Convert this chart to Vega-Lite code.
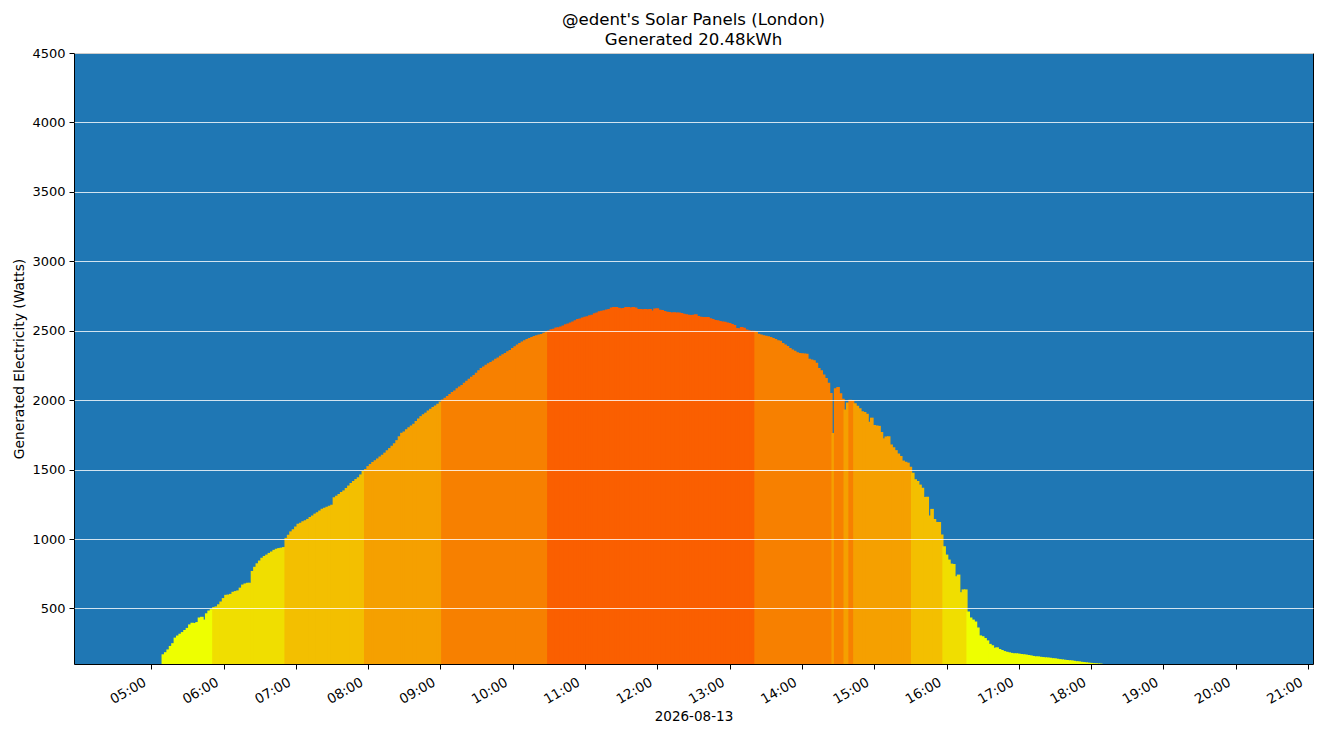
{
  "$schema": "https://vega.github.io/schema/vega-lite/v6.json",
  "autosize": {"type": "none"},
  "width": 1239,
  "height": 611,
  "padding": {"left": 74, "top": 53, "right": 11, "bottom": 72},
  "title": {
    "text": ["@edent's Solar Panels (London)", "Generated 20.48kWh"],
    "fontSize": 16.6,
    "fontWeight": "normal",
    "font": "DejaVu Sans",
    "color": "black",
    "anchor": "middle",
    "lineHeight": 20,
    "offset": -2
  },
  "data": {
    "format": {"parse": {"t": "date:'%H:%M'"}},
    "values": [
      {"t":"05:10","w":170},{"t":"05:12","w":185},{"t":"05:14","w":205},{"t":"05:16","w":230},{"t":"05:18","w":250},
      {"t":"05:20","w":290},{"t":"05:22","w":305},{"t":"05:24","w":318},{"t":"05:26","w":330},{"t":"05:28","w":345},
      {"t":"05:30","w":360},{"t":"05:32","w":385},{"t":"05:34","w":397},{"t":"05:36","w":395},{"t":"05:38","w":402},
      {"t":"05:40","w":435},{"t":"05:42","w":440},{"t":"05:44","w":420},{"t":"05:46","w":465},{"t":"05:48","w":485},
      {"t":"05:50","w":495},{"t":"05:52","w":510},{"t":"05:54","w":515},{"t":"05:56","w":530},{"t":"05:58","w":550},
      {"t":"06:00","w":575},{"t":"06:02","w":598},{"t":"06:04","w":600},{"t":"06:06","w":605},{"t":"06:08","w":620},
      {"t":"06:10","w":625},{"t":"06:12","w":630},{"t":"06:14","w":650},{"t":"06:16","w":672},{"t":"06:18","w":680},
      {"t":"06:20","w":685},{"t":"06:22","w":685},{"t":"06:24","w":770},{"t":"06:26","w":800},{"t":"06:28","w":825},
      {"t":"06:30","w":845},{"t":"06:32","w":865},{"t":"06:34","w":878},{"t":"06:36","w":888},{"t":"06:38","w":900},
      {"t":"06:40","w":910},{"t":"06:42","w":922},{"t":"06:44","w":930},{"t":"06:46","w":935},{"t":"06:48","w":938},
      {"t":"06:50","w":942},{"t":"06:52","w":1008},{"t":"06:54","w":1030},{"t":"06:56","w":1055},{"t":"06:58","w":1070},
      {"t":"07:00","w":1090},{"t":"07:02","w":1110},{"t":"07:04","w":1118},{"t":"07:06","w":1128},{"t":"07:08","w":1135},
      {"t":"07:10","w":1145},{"t":"07:12","w":1158},{"t":"07:14","w":1170},{"t":"07:16","w":1183},{"t":"07:18","w":1192},
      {"t":"07:20","w":1205},{"t":"07:22","w":1218},{"t":"07:24","w":1225},{"t":"07:26","w":1232},{"t":"07:28","w":1240},
      {"t":"07:30","w":1247},{"t":"07:32","w":1300},{"t":"07:34","w":1312},{"t":"07:36","w":1325},{"t":"07:38","w":1338},
      {"t":"07:40","w":1350},{"t":"07:42","w":1368},{"t":"07:44","w":1385},{"t":"07:46","w":1403},{"t":"07:48","w":1418},
      {"t":"07:50","w":1432},{"t":"07:52","w":1445},{"t":"07:54","w":1465},{"t":"07:56","w":1490},{"t":"07:58","w":1505},
      {"t":"08:00","w":1525},{"t":"08:02","w":1540},{"t":"08:04","w":1555},{"t":"08:06","w":1568},{"t":"08:08","w":1580},
      {"t":"08:10","w":1595},{"t":"08:12","w":1607},{"t":"08:14","w":1622},{"t":"08:16","w":1640},{"t":"08:18","w":1655},
      {"t":"08:20","w":1672},{"t":"08:22","w":1690},{"t":"08:24","w":1712},{"t":"08:26","w":1740},{"t":"08:28","w":1765},
      {"t":"08:30","w":1775},{"t":"08:32","w":1790},{"t":"08:34","w":1805},{"t":"08:36","w":1818},{"t":"08:38","w":1830},
      {"t":"08:40","w":1850},{"t":"08:42","w":1868},{"t":"08:44","w":1885},{"t":"08:46","w":1898},{"t":"08:48","w":1910},
      {"t":"08:50","w":1925},{"t":"08:52","w":1938},{"t":"08:54","w":1950},{"t":"08:56","w":1962},{"t":"08:58","w":1975},
      {"t":"09:00","w":1990},{"t":"09:02","w":2004},{"t":"09:04","w":2018},{"t":"09:06","w":2030},{"t":"09:08","w":2045},
      {"t":"09:10","w":2058},{"t":"09:12","w":2070},{"t":"09:14","w":2085},{"t":"09:16","w":2098},{"t":"09:18","w":2110},
      {"t":"09:20","w":2125},{"t":"09:22","w":2140},{"t":"09:24","w":2155},{"t":"09:26","w":2168},{"t":"09:28","w":2182},
      {"t":"09:30","w":2198},{"t":"09:32","w":2215},{"t":"09:34","w":2232},{"t":"09:36","w":2242},{"t":"09:38","w":2255},
      {"t":"09:40","w":2265},{"t":"09:42","w":2275},{"t":"09:44","w":2285},{"t":"09:46","w":2298},{"t":"09:48","w":2308},
      {"t":"09:50","w":2320},{"t":"09:52","w":2330},{"t":"09:54","w":2340},{"t":"09:56","w":2352},{"t":"09:58","w":2362},
      {"t":"10:00","w":2375},{"t":"10:02","w":2388},{"t":"10:04","w":2400},{"t":"10:06","w":2412},{"t":"10:08","w":2422},
      {"t":"10:10","w":2432},{"t":"10:12","w":2440},{"t":"10:14","w":2448},{"t":"10:16","w":2455},{"t":"10:18","w":2462},
      {"t":"10:20","w":2468},{"t":"10:22","w":2472},{"t":"10:24","w":2476},{"t":"10:26","w":2485},{"t":"10:28","w":2493},
      {"t":"10:30","w":2502},{"t":"10:32","w":2510},{"t":"10:34","w":2515},{"t":"10:36","w":2523},{"t":"10:38","w":2525},
      {"t":"10:40","w":2530},{"t":"10:42","w":2538},{"t":"10:44","w":2546},{"t":"10:46","w":2552},{"t":"10:48","w":2560},
      {"t":"10:50","w":2567},{"t":"10:52","w":2576},{"t":"10:54","w":2584},{"t":"10:56","w":2588},{"t":"10:58","w":2595},
      {"t":"11:00","w":2600},{"t":"11:02","w":2605},{"t":"11:04","w":2611},{"t":"11:06","w":2615},{"t":"11:08","w":2625},
      {"t":"11:10","w":2632},{"t":"11:12","w":2640},{"t":"11:14","w":2643},{"t":"11:16","w":2648},{"t":"11:18","w":2652},
      {"t":"11:20","w":2656},{"t":"11:22","w":2668},{"t":"11:24","w":2670},{"t":"11:26","w":2670},{"t":"11:28","w":2665},
      {"t":"11:30","w":2661},{"t":"11:32","w":2663},{"t":"11:34","w":2670},{"t":"11:36","w":2670},{"t":"11:38","w":2668},
      {"t":"11:40","w":2670},{"t":"11:42","w":2668},{"t":"11:44","w":2656},{"t":"11:46","w":2656},{"t":"11:48","w":2655},
      {"t":"11:50","w":2656},{"t":"11:52","w":2654},{"t":"11:54","w":2656},{"t":"11:56","w":2646},{"t":"11:58","w":2660},
      {"t":"12:00","w":2661},{"t":"12:02","w":2651},{"t":"12:04","w":2650},{"t":"12:06","w":2642},{"t":"12:08","w":2637},
      {"t":"12:10","w":2634},{"t":"12:12","w":2632},{"t":"12:14","w":2633},{"t":"12:16","w":2632},{"t":"12:18","w":2632},
      {"t":"12:20","w":2628},{"t":"12:22","w":2622},{"t":"12:24","w":2618},{"t":"12:26","w":2615},{"t":"12:28","w":2613},
      {"t":"12:30","w":2615},{"t":"12:32","w":2618},{"t":"12:34","w":2606},{"t":"12:36","w":2600},{"t":"12:38","w":2599},
      {"t":"12:40","w":2599},{"t":"12:42","w":2598},{"t":"12:44","w":2590},{"t":"12:46","w":2584},{"t":"12:48","w":2578},
      {"t":"12:50","w":2575},{"t":"12:52","w":2570},{"t":"12:54","w":2566},{"t":"12:56","w":2565},{"t":"12:58","w":2560},
      {"t":"13:00","w":2556},{"t":"13:02","w":2548},{"t":"13:04","w":2541},{"t":"13:06","w":2520},{"t":"13:08","w":2517},
      {"t":"13:10","w":2527},{"t":"13:12","w":2522},{"t":"13:14","w":2508},{"t":"13:16","w":2504},{"t":"13:18","w":2500},
      {"t":"13:20","w":2500},{"t":"13:22","w":2492},{"t":"13:24","w":2478},{"t":"13:26","w":2472},{"t":"13:28","w":2468},
      {"t":"13:30","w":2464},{"t":"13:32","w":2460},{"t":"13:34","w":2455},{"t":"13:36","w":2448},{"t":"13:38","w":2440},
      {"t":"13:40","w":2432},{"t":"13:42","w":2428},{"t":"13:44","w":2412},{"t":"13:46","w":2400},{"t":"13:48","w":2390},
      {"t":"13:50","w":2375},{"t":"13:52","w":2364},{"t":"13:54","w":2355},{"t":"13:56","w":2345},{"t":"13:58","w":2340},
      {"t":"14:00","w":2338},{"t":"14:02","w":2336},{"t":"14:04","w":2334},{"t":"14:06","w":2298},{"t":"14:08","w":2292},
      {"t":"14:10","w":2287},{"t":"14:12","w":2270},{"t":"14:14","w":2232},{"t":"14:16","w":2215},{"t":"14:18","w":2185},
      {"t":"14:20","w":2160},{"t":"14:22","w":2125},{"t":"14:24","w":2051},{"t":"14:26","w":1763},{"t":"14:28","w":2085},
      {"t":"14:30","w":2095},{"t":"14:32","w":2050},{"t":"14:34","w":2011},{"t":"14:36","w":1932},{"t":"14:38","w":1984},
      {"t":"14:40","w":2003},{"t":"14:42","w":2001},{"t":"14:44","w":1978},{"t":"14:46","w":1960},{"t":"14:48","w":1941},
      {"t":"14:50","w":1920},{"t":"14:52","w":1915},{"t":"14:54","w":1902},{"t":"14:56","w":1845},{"t":"14:58","w":1874},
      {"t":"15:00","w":1821},{"t":"15:02","w":1818},{"t":"15:04","w":1815},{"t":"15:06","w":1770},{"t":"15:08","w":1725},
      {"t":"15:10","w":1738},{"t":"15:12","w":1740},{"t":"15:14","w":1681},{"t":"15:16","w":1660},{"t":"15:18","w":1640},
      {"t":"15:20","w":1616},{"t":"15:22","w":1598},{"t":"15:24","w":1565},{"t":"15:26","w":1556},{"t":"15:28","w":1550},
      {"t":"15:30","w":1521},{"t":"15:32","w":1478},{"t":"15:34","w":1430},{"t":"15:36","w":1418},{"t":"15:38","w":1392},
      {"t":"15:40","w":1370},{"t":"15:42","w":1303},{"t":"15:44","w":1305},{"t":"15:46","w":1169},{"t":"15:48","w":1217},
      {"t":"15:50","w":1145},{"t":"15:52","w":1123},{"t":"15:54","w":1123},{"t":"15:56","w":1032},{"t":"15:58","w":948},
      {"t":"16:00","w":888},{"t":"16:02","w":852},{"t":"16:04","w":823},{"t":"16:06","w":820},{"t":"16:08","w":732},
      {"t":"16:10","w":744},{"t":"16:12","w":617},{"t":"16:14","w":637},{"t":"16:16","w":637},{"t":"16:18","w":478},
      {"t":"16:20","w":435},{"t":"16:22","w":420},{"t":"16:24","w":406},{"t":"16:26","w":363},{"t":"16:28","w":306},
      {"t":"16:30","w":300},{"t":"16:32","w":287},{"t":"16:34","w":270},{"t":"16:36","w":245},{"t":"16:38","w":235},
      {"t":"16:40","w":217},{"t":"16:42","w":220},{"t":"16:44","w":208},{"t":"16:46","w":201},{"t":"16:48","w":193},
      {"t":"16:50","w":188},{"t":"16:52","w":184},{"t":"16:54","w":180},{"t":"16:56","w":177},{"t":"16:58","w":177},
      {"t":"17:00","w":175},{"t":"17:02","w":172},{"t":"17:04","w":170},{"t":"17:06","w":168},{"t":"17:08","w":165},
      {"t":"17:10","w":162},{"t":"17:12","w":158},{"t":"17:14","w":155},{"t":"17:16","w":155},{"t":"17:18","w":152},
      {"t":"17:20","w":150},{"t":"17:22","w":148},{"t":"17:24","w":147},{"t":"17:26","w":145},{"t":"17:28","w":142},
      {"t":"17:30","w":141},{"t":"17:32","w":138},{"t":"17:34","w":135},{"t":"17:36","w":133},{"t":"17:38","w":131},
      {"t":"17:40","w":129},{"t":"17:42","w":127},{"t":"17:44","w":126},{"t":"17:46","w":123},{"t":"17:48","w":120},
      {"t":"17:50","w":119},{"t":"17:52","w":116},{"t":"17:54","w":114},{"t":"17:56","w":112},{"t":"17:58","w":110},
      {"t":"18:00","w":108},{"t":"18:02","w":106},{"t":"18:04","w":105},{"t":"18:06","w":104},{"t":"18:08","w":103}
    ]
  },
  "mark": {"type": "bar", "width": 3.6},
  "encoding": {
    "x": {
      "field": "t",
      "type": "temporal",
      "scale": {
        "domain": [
          {"year": 1900, "month": 1, "date": 1, "hours": 4},
          {"year": 1900, "month": 1, "date": 1, "hours": 21}
        ]
      },
      "axis": {
        "title": "2026-08-13",
        "format": "%H:%M",
        "values": [
          {"year": 1900, "month": 1, "date": 1, "hours": 5},
          {"year": 1900, "month": 1, "date": 1, "hours": 6},
          {"year": 1900, "month": 1, "date": 1, "hours": 7},
          {"year": 1900, "month": 1, "date": 1, "hours": 8},
          {"year": 1900, "month": 1, "date": 1, "hours": 9},
          {"year": 1900, "month": 1, "date": 1, "hours": 10},
          {"year": 1900, "month": 1, "date": 1, "hours": 11},
          {"year": 1900, "month": 1, "date": 1, "hours": 12},
          {"year": 1900, "month": 1, "date": 1, "hours": 13},
          {"year": 1900, "month": 1, "date": 1, "hours": 14},
          {"year": 1900, "month": 1, "date": 1, "hours": 15},
          {"year": 1900, "month": 1, "date": 1, "hours": 16},
          {"year": 1900, "month": 1, "date": 1, "hours": 17},
          {"year": 1900, "month": 1, "date": 1, "hours": 18},
          {"year": 1900, "month": 1, "date": 1, "hours": 19},
          {"year": 1900, "month": 1, "date": 1, "hours": 20},
          {"year": 1900, "month": 1, "date": 1, "hours": 21}
        ],
        "grid": false,
        "labelFont": "DejaVu Sans",
        "labelFontSize": 13.5,
        "labelAngle": -30,
        "labelAlign": "right",
        "labelBaseline": "bottom",
        "labelPadding": 18,
        "labelOffset": -3,
        "labelOverlap": false,
        "labelFlush": false,
        "titleFontSize": 13.5,
        "titlePadding": 3
      }
    },
    "y": {
      "field": "w",
      "type": "quantitative",
      "scale": {"domain": [100, 4500], "zero": false, "nice": false},
      "axis": {
        "title": "Generated Electricity (Watts)",
        "format": "d",
        "values": [500, 1000, 1500, 2000, 2500, 3000, 3500, 4000, 4500],
        "grid": true,
        "gridColor": "white",
        "gridOpacity": 0.8,
        "gridWidth": 1,
        "zindex": 1,
        "labelFont": "DejaVu Sans",
        "labelFontSize": 13,
        "labelPadding": 4,
        "titleFontSize": 13.8,
        "titlePadding": 5
      }
    },
    "y2": {"datum": 100},
    "color": {
      "field": "w",
      "type": "quantitative",
      "scale": {
        "type": "threshold",
        "domain": [500, 1000, 1500, 2000, 2500],
        "range": ["#eeff00", "#f0de00", "#f3bf00", "#f5a000", "#f78000", "#fa5f00"]
      },
      "legend": null
    }
  },
  "config": {
    "font": "DejaVu Sans",
    "view": {"fill": "#1f77b4", "stroke": "black", "strokeWidth": 1},
    "axis": {
      "domain": false,
      "tickColor": "black",
      "tickSize": 5,
      "labelColor": "black",
      "titleColor": "black",
      "titleFontWeight": "normal",
      "titleFont": "DejaVu Sans"
    }
  }
}
